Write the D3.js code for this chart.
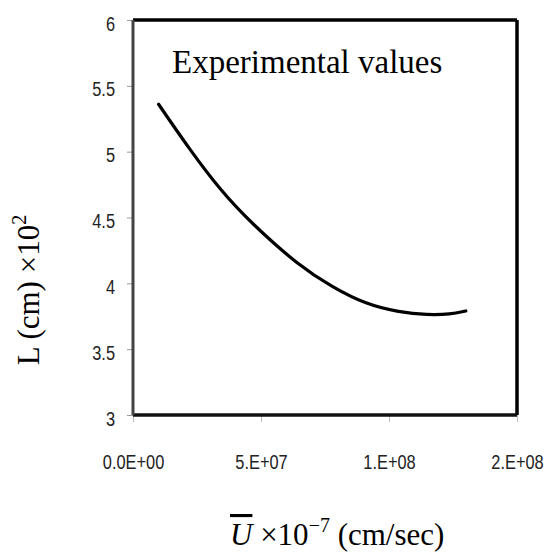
<!DOCTYPE html>
<html><head><meta charset="utf-8">
<script src="https://cdnjs.cloudflare.com/ajax/libs/d3/7.8.5/d3.min.js"></script>
<style>body{margin:0;background:#fff}</style>
</head><body>
<svg id="c" width="550" height="554"></svg>
<script>
const xValues = [1.0e7, 2.2e7, 3.4e7, 4.6e7, 6.5e7, 7.8e7, 9.1e7, 10.4e7, 11.5e7, 12.4e7, 13.0e7];
const yValues = [5.36, 5.02, 4.71, 4.46, 4.13, 3.97, 3.84, 3.78, 3.76, 3.765, 3.79];
const xTickValues = [0, 5e7, 1e8, 1.5e8];
const xTickLabels = ["0.0E+00", "5.E+07", "1.E+08", "2.E+08"];
const yTickValues = [3, 3.5, 4, 4.5, 5, 5.5, 6];
const yTickLabels = ["3", "3.5", "4", "4.5", "5", "5.5", "6"];
const titleText = "Experimental values";

const svg = d3.select("#c");
const m = {left:133, right:517, top:20, bottom:415};
const x = d3.scaleLinear().domain([0, 1.5e8]).range([m.left, m.right]);
const y = d3.scaleLinear().domain([3, 6]).range([m.bottom, m.top]);
const sans = "'Liberation Sans',Arial,sans-serif";
const serif = "'Liberation Serif','Times New Roman',serif";

// y axis
const ya = svg.append("g").attr("transform", `translate(${m.left},0)`)
  .call(d3.axisLeft(y).tickValues(yTickValues).tickFormat((d,i)=>yTickLabels[i]).tickSize(6).tickPadding(12));
ya.select(".domain").remove();
ya.selectAll(".tick line").attr("stroke", "#999");
ya.selectAll(".tick text").attr("font-family", sans).attr("font-size", 21).attr("fill", "#222")
  .attr("x", 0).attr("dy", "0.48em").attr("transform", "translate(-18,0) scale(0.78,1)");

// x axis
const xa = svg.append("g").attr("transform", `translate(0,${m.bottom})`)
  .call(d3.axisBottom(x).tickValues(xTickValues).tickFormat((d,i)=>xTickLabels[i]).tickSize(7).tickPadding(32));
xa.select(".domain").remove();
xa.selectAll(".tick line").attr("stroke", "#bbb");
xa.selectAll(".tick text").attr("font-family", sans).attr("font-size", 21).attr("fill", "#222")
  .attr("transform", "scale(0.78,1)");

// frame
svg.append("line").attr("x1", m.left).attr("x2", m.right).attr("y1", m.top).attr("y2", m.top)
  .attr("stroke", "#000").attr("stroke-width", 3.5);
svg.append("line").attr("x1", m.right).attr("x2", m.right).attr("y1", m.top).attr("y2", m.bottom)
  .attr("stroke", "#000").attr("stroke-width", 3.5);
svg.append("line").attr("x1", m.left).attr("x2", m.right).attr("y1", m.bottom).attr("y2", m.bottom)
  .attr("stroke", "#111").attr("stroke-width", 3.5);
svg.append("line").attr("x1", m.left).attr("x2", m.left).attr("y1", m.top).attr("y2", m.bottom)
  .attr("stroke", "#444").attr("stroke-width", 3);

// curve
const pts = xValues.map((v,i)=>[v, yValues[i]]);
svg.append("path").datum(pts)
  .attr("d", d3.line().x(d=>x(d[0])).y(d=>y(d[1])).curve(d3.curveBasis))
  .attr("fill", "none").attr("stroke", "#000").attr("stroke-width", 3.2).attr("stroke-linecap", "round");

// title inside plot
svg.append("text").attr("x", 172).attr("y", 73).attr("font-family", serif).attr("font-size", 33)
  .attr("fill", "#000").text(titleText);

// y title
const yt = svg.append("text").attr("transform", "translate(39,290) rotate(-90)")
  .attr("text-anchor", "middle").attr("font-family", serif).attr("font-size", 31).attr("fill", "#000");
yt.append("tspan").text("L (cm) \u00d710");
yt.append("tspan").attr("font-size", 20).attr("dy", -13).text("2");

// x title
const xt = svg.append("text").attr("x", 230).attr("y", 545).attr("font-family", serif).attr("font-size", 31).attr("fill", "#000");
xt.append("tspan").attr("font-style", "italic").style("text-decoration", "overline").text("U");
xt.append("tspan").text(" \u00d710");
xt.append("tspan").attr("font-size", 20).attr("dy", -13).text("\u22127");
xt.append("tspan").attr("dy", 13).text(" (cm/sec)");
</script>
</body></html>
